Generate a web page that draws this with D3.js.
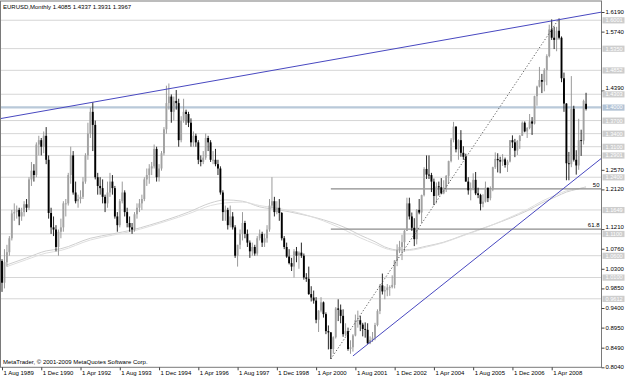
<!DOCTYPE html>
<html><head><meta charset="utf-8">
<script src="https://cdn.jsdelivr.net/npm/d3@7/dist/d3.min.js"></script>
<style>body{margin:0;background:#fff}svg{display:block;font-family:"Liberation Sans",Arial,sans-serif}</style>
</head><body><svg id="c" width="625" height="378"></svg>
<script>
// EURUSD monthly, Aug 1989 .. Jun 2009
const startLabel = "Aug 1989";
const opens = [
1.048,0.998,1.045,1.068,1.100,
1.157,1.160,1.165,1.150,1.160,1.178,1.170,1.235,1.255,1.245,1.315,1.325,
1.310,1.335,1.280,1.158,1.125,1.120,1.080,1.115,1.125,1.180,1.180,1.245,
1.290,1.205,1.185,1.190,1.195,1.230,1.290,1.340,1.390,1.360,1.240,1.220,
1.215,1.195,1.180,1.205,1.230,1.215,1.150,1.130,1.185,1.205,1.160,1.135,
1.125,1.120,1.155,1.170,1.180,1.190,1.235,1.245,1.260,1.265,1.305,1.240,
1.260,1.295,1.350,1.410,1.425,1.390,1.415,1.410,1.325,1.370,1.390,1.385,
1.365,1.320,1.335,1.320,1.280,1.275,1.285,1.330,1.320,1.280,1.280,1.270,
1.260,1.205,1.160,1.165,1.130,1.150,1.125,1.060,1.085,1.110,1.135,1.110,
1.090,1.070,1.080,1.065,1.100,1.110,1.090,1.100,1.120,1.175,1.185,1.160,
1.170,1.158,1.100,1.080,1.058,1.043,1.035,1.070,1.060,1.067,1.060,1.010,
1.007,0.972,0.964,0.957,0.913,0.934,0.953,0.926,0.887,0.884,0.846,0.873,
0.939,0.936,0.922,0.880,0.887,0.846,0.850,0.877,0.912,0.912,0.902,0.892,
0.890,0.859,0.867,0.872,0.901,0.933,0.992,0.978,0.981,0.987,0.988,0.993,
1.049,1.073,1.080,1.091,1.117,1.180,1.150,1.124,1.098,1.165,1.159,1.199,
1.259,1.246,1.245,1.230,1.197,1.219,1.217,1.203,1.216,1.243,1.277,1.326,
1.356,1.304,1.325,1.296,1.287,1.230,1.210,1.212,1.234,1.203,1.199,1.179,
1.184,1.216,1.192,1.212,1.263,1.282,1.279,1.276,1.281,1.268,1.276,1.325,
1.320,1.301,1.323,1.335,1.365,1.345,1.353,1.368,1.363,1.426,1.448,1.463,
1.459,1.486,1.518,1.579,1.560,1.555,1.576,1.560,1.467,1.409,1.272,1.270,
1.397,1.280,1.267,1.325,1.324,1.4085];
const highs = [
1.052,1.075,1.085,1.105,1.165,
1.180,1.175,1.170,1.170,1.185,1.190,1.240,1.275,1.270,1.320,1.335,1.330,
1.345,1.355,1.290,1.170,1.150,1.130,1.120,1.145,1.185,1.190,1.250,1.310,
1.300,1.230,1.200,1.210,1.240,1.295,1.365,1.400,1.412,1.370,1.250,1.240,
1.235,1.200,1.230,1.250,1.245,1.220,1.160,1.190,1.230,1.210,1.170,1.150,
1.135,1.160,1.180,1.190,1.200,1.240,1.260,1.270,1.275,1.315,1.310,1.270,
1.300,1.355,1.450,1.455,1.430,1.425,1.440,1.420,1.380,1.420,1.395,1.390,
1.375,1.345,1.340,1.325,1.290,1.300,1.340,1.335,1.325,1.300,1.305,1.280,
1.265,1.210,1.175,1.170,1.175,1.160,1.130,1.085,1.120,1.160,1.140,1.120,
1.095,1.090,1.085,1.105,1.120,1.115,1.110,1.130,1.190,1.240,1.195,1.185,
1.190,1.160,1.105,1.090,1.075,1.055,1.075,1.080,1.070,1.090,1.065,1.020,
1.035,0.990,0.980,0.965,0.935,0.965,0.955,0.930,0.900,0.885,0.875,0.942,
0.960,0.948,0.937,0.905,0.895,0.866,0.880,0.925,0.934,0.922,0.906,0.907,
0.905,0.875,0.885,0.906,0.937,0.995,1.019,0.990,0.995,0.992,1.015,1.050,
1.086,1.094,1.108,1.119,1.193,1.193,1.159,1.146,1.167,1.190,1.200,1.263,
1.290,1.290,1.250,1.237,1.228,1.230,1.238,1.233,1.245,1.278,1.330,1.367,
1.357,1.327,1.348,1.311,1.294,1.240,1.228,1.249,1.252,1.216,1.202,1.201,
1.230,1.216,1.219,1.264,1.297,1.295,1.287,1.293,1.285,1.280,1.325,1.336,
1.328,1.325,1.337,1.368,1.368,1.355,1.385,1.378,1.427,1.450,1.493,1.477,
1.490,1.522,1.590,1.602,1.585,1.585,1.604,1.563,1.480,1.410,1.298,1.472,
1.404,1.302,1.374,1.349,1.418,1.4337];
const lows = [
0.977,0.985,1.035,1.060,1.095,
1.140,1.145,1.130,1.140,1.150,1.160,1.165,1.220,1.230,1.240,1.290,1.290,
1.295,1.270,1.145,1.110,1.105,1.070,1.060,1.100,1.115,1.150,1.175,1.225,
1.200,1.180,1.170,1.180,1.190,1.225,1.280,1.330,1.300,1.235,1.200,1.200,
1.180,1.160,1.170,1.195,1.200,1.145,1.115,1.125,1.180,1.150,1.125,1.115,
1.110,1.115,1.145,1.160,1.165,1.185,1.220,1.225,1.245,1.260,1.230,1.230,
1.255,1.290,1.340,1.395,1.365,1.370,1.395,1.310,1.320,1.365,1.360,1.355,
1.310,1.310,1.310,1.270,1.265,1.270,1.280,1.300,1.275,1.270,1.265,1.245,
1.200,1.140,1.140,1.120,1.125,1.120,1.055,1.035,1.075,1.095,1.100,1.080,
1.055,1.060,1.060,1.060,1.095,1.080,1.080,1.090,1.115,1.170,1.150,1.155,
1.140,1.095,1.075,1.055,1.040,1.025,1.010,1.045,1.030,1.055,1.005,1.000,
0.970,0.955,0.950,0.905,0.885,0.930,0.918,0.880,0.845,0.823,0.835,0.870,
0.910,0.905,0.874,0.875,0.842,0.835,0.840,0.875,0.895,0.887,0.875,0.872,
0.858,0.857,0.862,0.866,0.898,0.926,0.971,0.960,0.967,0.968,0.985,0.985,
1.036,1.066,1.050,1.069,1.117,1.143,1.117,1.082,1.086,1.155,1.135,1.196,
1.236,1.236,1.206,1.176,1.180,1.198,1.201,1.201,1.206,1.225,1.274,1.320,
1.297,1.280,1.287,1.280,1.230,1.200,1.187,1.210,1.199,1.192,1.164,1.171,
1.182,1.183,1.187,1.208,1.259,1.251,1.249,1.266,1.262,1.252,1.274,1.307,
1.286,1.291,1.305,1.335,1.343,1.330,1.350,1.337,1.361,1.404,1.446,1.433,
1.437,1.451,1.515,1.555,1.534,1.529,1.556,1.458,1.390,1.233,1.233,1.263,
1.276,1.246,1.257,1.289,1.315,1.3931];
const closes = [
0.998,1.045,1.068,1.100,1.157,
1.160,1.165,1.150,1.160,1.178,1.170,1.235,1.255,1.245,1.315,1.325,1.310,
1.335,1.280,1.158,1.125,1.120,1.080,1.115,1.125,1.180,1.180,1.245,1.290,
1.205,1.185,1.190,1.195,1.230,1.290,1.340,1.390,1.360,1.240,1.220,1.215,
1.195,1.180,1.205,1.230,1.215,1.150,1.130,1.185,1.205,1.160,1.135,1.125,
1.120,1.155,1.170,1.180,1.190,1.235,1.245,1.260,1.265,1.305,1.240,1.260,
1.295,1.350,1.410,1.425,1.390,1.415,1.410,1.325,1.370,1.390,1.385,1.365,
1.320,1.335,1.320,1.280,1.275,1.285,1.330,1.320,1.280,1.280,1.270,1.260,
1.205,1.160,1.165,1.130,1.150,1.125,1.060,1.085,1.110,1.135,1.110,1.090,
1.070,1.080,1.065,1.100,1.110,1.090,1.100,1.120,1.175,1.185,1.160,1.170,
1.158,1.100,1.080,1.058,1.043,1.035,1.070,1.060,1.067,1.060,1.010,1.007,
0.972,0.964,0.957,0.913,0.934,0.953,0.926,0.887,0.884,0.846,0.873,0.939,
0.936,0.922,0.880,0.887,0.846,0.850,0.877,0.912,0.912,0.902,0.892,0.890,
0.859,0.867,0.872,0.901,0.933,0.992,0.978,0.981,0.987,0.988,0.993,1.049,
1.073,1.080,1.091,1.117,1.180,1.150,1.124,1.098,1.165,1.159,1.199,1.259,
1.246,1.245,1.230,1.197,1.219,1.217,1.203,1.216,1.243,1.277,1.326,1.356,
1.304,1.325,1.296,1.287,1.230,1.210,1.212,1.234,1.203,1.199,1.179,1.184,
1.216,1.192,1.212,1.263,1.282,1.279,1.276,1.281,1.268,1.276,1.325,1.320,
1.301,1.323,1.335,1.365,1.345,1.353,1.368,1.363,1.426,1.448,1.463,1.459,
1.486,1.518,1.579,1.560,1.555,1.576,1.560,1.467,1.409,1.272,1.270,1.397,
1.280,1.267,1.325,1.324,1.415,1.3967];

// moving averages (bar index -> price)
const maIdx = [2,10,18,24,36,45,53,60,68,76,85,91,98,105,113,121,128,134,140,146,152,156,162,166,173,180,187,194,200,207,214,220,226,230,234,238];
const maSlow = [1.039,1.055,1.071,1.076,1.100,1.110,1.119,1.130,1.144,1.160,1.181,1.188,1.185,1.172,1.165,1.156,1.147,1.137,1.124,1.107,1.092,1.080,1.073,1.074,1.082,1.091,1.105,1.119,1.131,1.146,1.163,1.181,1.196,1.206,1.212,1.218];
const maFast = [1.035,1.051,1.066,1.072,1.096,1.107,1.116,1.127,1.141,1.156,1.175,1.181,1.183,1.175,1.168,1.158,1.146,1.133,1.118,1.101,1.087,1.077,1.071,1.072,1.080,1.090,1.104,1.118,1.131,1.148,1.166,1.185,1.200,1.209,1.213,1.216];

// visible price-scale ticks (others are covered by the line labels)
const yTickValues = [1.6190,1.5740,1.4390,1.2570,1.2120,1.1210,1.0760,1.0300,0.9850,0.9400,0.8950,0.8490,0.8040];
const xTickLabels = ["1 Aug 1989","1 Dec 1990","1 Apr 1992","1 Aug 1993","1 Dec 1994","1 Apr 1996","1 Aug 1997","1 Dec 1998","1 Apr 2000","1 Aug 2001","1 Dec 2002","1 Apr 2004","1 Aug 2005","1 Dec 2006","1 Apr 2008"];
const hLines = [1.6001,1.5350,1.4852,1.4303,1.3700,1.3400,1.3100,1.2901,1.2400,1.1649,1.1100,1.0600,1.0100,0.9612];
const blueLevel = 1.4000;
const fibLevels = [{p:1.2133,label:"50"},{p:1.1211,label:"61.8"}];
const fibStart = 134;
const dottedLine = [{i:134,p:0.823},{i:227,p:1.604}];
const trend1 = [{i:37,p:1.412},{i:227,p:1.6015}];
const trend2 = [{i:143,p:0.830},{i:244.4,p:1.284}];
const titleText = "EURUSD,Monthly  1.4085 1.4337 1.3931 1.3967";
const copyText = "MetaTrader, \u00a9 2001-2009 MetaQuotes Software Corp.";

const svg = d3.select("#c");
const axisX = 601.5, plotTop = 1, plotBottom = 367.3;
const x = d3.scaleLinear().domain([0,224]).range([2,551.7]);
const y = d3.scaleLinear().domain([0.8040,1.6190]).range([367.3,12]);
const monthNames = ["Jan","Feb","Mar","Apr","May","Jun","Jul","Aug","Sep","Oct","Nov","Dec"];
const sParts = startLabel.split(" ");
const startM = +sParts[1]*12 + monthNames.indexOf(sParts[0]);
const labelIdx = xTickLabels.map(s=>{const p=s.split(" "); return +p[2]*12+monthNames.indexOf(p[1])-startM;});

svg.append("defs").append("clipPath").attr("id","pc").append("rect")
  .attr("x",0).attr("y",plotTop).attr("width",axisX).attr("height",plotBottom-plotTop);
const g = svg.append("g").attr("clip-path","url(#pc)");

// horizontal line objects
g.selectAll("line.h").data(hLines).join("line")
  .attr("x1",0).attr("x2",axisX).attr("y1",d=>y(d)).attr("y2",d=>y(d))
  .attr("stroke","#d6d6d6").attr("stroke-width",1);
g.append("line").attr("x1",0).attr("x2",axisX).attr("y1",y(blueLevel)).attr("y2",y(blueLevel))
  .attr("stroke","#b9c9d9").attr("stroke-width",2.2);

// moving averages
const maLine = arr => d3.line().x((d,k)=>x(maIdx[k])).y(d=>y(d)).curve(d3.curveMonotoneX)(arr);
g.append("path").attr("d",maLine(maSlow)).attr("fill","none").attr("stroke","#cfcfcf").attr("stroke-width",1);
g.append("path").attr("d",maLine(maFast)).attr("fill","none").attr("stroke","#dedede").attr("stroke-width",1);

// fibonacci levels
g.selectAll("line.fib").data(fibLevels).join("line")
  .attr("x1",x(fibStart)).attr("x2",axisX).attr("y1",d=>y(d.p)).attr("y2",d=>y(d.p))
  .attr("stroke","#8c8c8c").attr("stroke-width",1.3);

// candles
const bars = d3.range(opens.length).map(i=>({i,o:opens[i],h:highs[i],l:lows[i],c:closes[i]}));
const isUp = d=>d.c>=d.o;
g.selectAll("line.wick").data(bars).join("line")
  .attr("x1",d=>x(d.i)).attr("x2",d=>x(d.i))
  .attr("y1",d=>y(d.h)).attr("y2",d=>y(d.l))
  .attr("stroke",d=>isUp(d)?"#8f8f8f":"#111").attr("stroke-width",0.9);
g.selectAll("rect.body").data(bars).join("rect")
  .attr("x",d=>x(d.i)-0.95).attr("width",1.9)
  .attr("y",d=>y(Math.max(d.o,d.c)))
  .attr("height",d=>Math.max(0.9,Math.abs(y(d.o)-y(d.c))))
  .attr("fill",d=>isUp(d)?"#a2a2a2":"#000");

// dotted line (fib base)
g.append("line").attr("x1",x(dottedLine[0].i)).attr("y1",y(dottedLine[0].p))
  .attr("x2",x(dottedLine[1].i)).attr("y2",y(dottedLine[1].p))
  .attr("stroke","#333").attr("stroke-width",0.8).attr("stroke-dasharray","1.2,2");

// trendlines extended
function extLine(t, x0, x1){
  const s = (t[1].p-t[0].p)/(t[1].i-t[0].i);
  const i0 = x.invert(x0), i1 = x.invert(x1);
  return [[x0,y(t[0].p+s*(i0-t[0].i))],[x1,y(t[0].p+s*(i1-t[0].i))]];
}
const t1 = extLine(trend1,0,axisX);
g.append("line").attr("x1",t1[0][0]).attr("y1",t1[0][1]).attr("x2",t1[1][0]).attr("y2",t1[1][1])
  .attr("stroke","#4848c0").attr("stroke-width",1);
const t2 = [[x(trend2[0].i),y(trend2[0].p)],[x(trend2[1].i),y(trend2[1].p)]];
g.append("line").attr("x1",t2[0][0]).attr("y1",t2[0][1]).attr("x2",t2[1][0]).attr("y2",t2[1][1])
  .attr("stroke","#4848c0").attr("stroke-width",1);

// fib labels
svg.selectAll("text.fibl").data(fibLevels).join("text")
  .attr("x",axisX-2).attr("y",d=>y(d.p)-2).attr("text-anchor","end")
  .attr("font-size",6).attr("fill","#000").text(d=>d.label);

// frame
svg.append("rect").attr("x",0.5).attr("y",plotTop).attr("width",axisX-0.5).attr("height",plotBottom-plotTop)
  .attr("fill","none").attr("stroke","#7a7a7a").attr("stroke-width",1);

// right axis
const ya = svg.append("g").attr("transform",`translate(${axisX},0)`)
  .call(d3.axisRight(y).tickValues(yTickValues).tickSize(3).tickPadding(1).tickFormat(d3.format(".4f")));
ya.select(".domain").remove();
ya.selectAll("line").attr("stroke","#444");
const nearLabel = v => hLines.some(h => Math.abs(h - v) < 0.012);
ya.selectAll("text").attr("font-size",6).attr("font-family","Liberation Sans, Arial, sans-serif").attr("fill","#000")
  .attr("dy",d=>nearLabel(d) ? "-0.1em" : "0.25em");

// horizontal line price labels
const labs = hLines.map(v=>({v,fill:"#cdcdcd"})).concat([{v:blueLevel,fill:"#b4c4d6"}]);
const lg = svg.selectAll("g.hl").data(labs).join("g").attr("transform",d=>`translate(${axisX+1},${y(d.v)})`);
lg.append("rect").attr("x",0).attr("y",-3).attr("width",22).attr("height",6.2).attr("fill",d=>d.fill);
lg.append("text").attr("x",3).attr("y",2).attr("font-size",5.6).attr("fill","#fff").text(d=>d3.format(".4f")(d.v));

// bottom axis
const xa = svg.append("g").attr("transform",`translate(0,${plotBottom})`)
  .call(d3.axisBottom(x).tickValues(labelIdx).tickSize(3).tickFormat((d,k)=>xTickLabels[k]));
xa.select(".domain").remove();
xa.selectAll("line").attr("stroke","#444");
xa.selectAll("text").attr("font-size",6).attr("font-family","Liberation Sans, Arial, sans-serif")
  .attr("fill","#000").attr("text-anchor","start").attr("dx",1).attr("y",3).attr("dy","0.71em");

// texts
svg.append("text").attr("x",3).attr("y",9).attr("font-size",6).attr("fill","#000").text(titleText);
svg.append("text").attr("x",3).attr("y",364).attr("font-size",6).attr("fill","#000").text(copyText);
</script></body></html>
